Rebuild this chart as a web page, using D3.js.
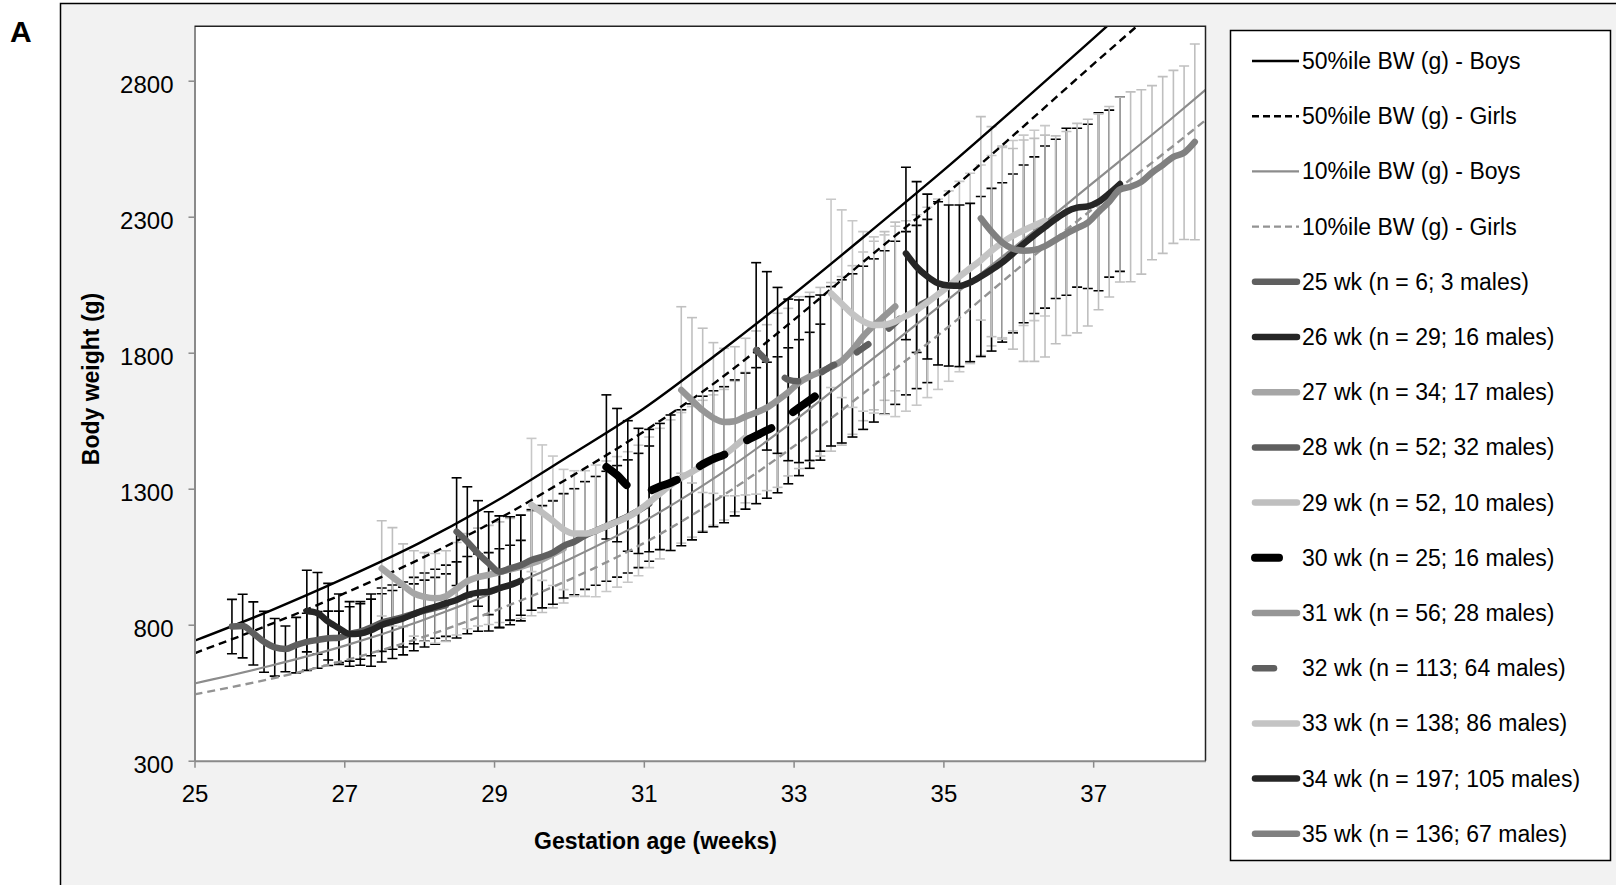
<!DOCTYPE html>
<html>
<head>
<meta charset="utf-8">
<script src="https://cdn.jsdelivr.net/npm/d3@7"></script>
<style>
body { margin: 0; background: #fff; }
text { font-family: "Liberation Sans", Arial, sans-serif; fill: #000; }
</style>
</head>
<body>
<script>
// reference percentile curves (g) by gestation week
var refWeeks = [25, 26, 27, 28, 29, 30, 31, 32, 33, 34, 35, 36, 37, 38, 38.5];
var boys50  = [741, 850, 970, 1100, 1250, 1420, 1595, 1800, 2015, 2240, 2470, 2710, 2955, 3200, 3320];
var girls50 = [695, 800, 915, 1040, 1180, 1340, 1510, 1700, 1920, 2150, 2375, 2615, 2860, 3100, 3220];
var boys10  = [584, 648, 722, 812, 918, 1040, 1180, 1350, 1548, 1765, 1982, 2200, 2425, 2650, 2766];
var girls10 = [544, 600, 668, 750, 850, 965, 1100, 1265, 1455, 1665, 1880, 2110, 2330, 2545, 2655];

// cohorts: first day (weeks), then daily mean and SD (g)
var cohortLabels = ["25 wk (n = 6; 3 males)", "26 wk (n = 29; 16 males)", "27 wk (n = 34; 17 males)",
  "28 wk (n = 52; 32 males)", "29 wk (n = 52, 10 males)", "30 wk (n = 25; 16 males)",
  "31 wk (n = 56; 28 males)", "32 wk (n = 113; 64 males)", "33 wk (n = 138; 86 males)",
  "34 wk (n = 197; 105 males)", "35 wk (n = 136; 67 males)"];
var cohortStart = [25.5, 26.5, 27.5, 28.5, 29.5, 30.5, 31.5, 32.5, 33.5, 34.5, 35.5];

var wk25Mean = [793, 795, 768, 737, 717, 711, 725, 737, 744, 750, 752, 766, 775, 790, 808, 818, 828, 840, 852, 862, 872];
var wk25Sd   = [100, 117, 116, 112, 106, 84, 102, 105, 104, 100, 98, 100, 102, 104, 106, 108, 110, 110, 112, 112, 115];
var wk26Mean = [850, 842, 811, 787, 766, 768, 780, 799, 811, 823, 839, 854, 866, 879, 891, 909, 918, 921, 934, 946, 962];
var wk26Sd   = [150, 150, 141, 126, 119, 117, 133, 136, 135, 134, 135, 136, 138, 140, 140, 142, 142, 144, 145, 146, 148];
var wk27Mean = [1007, 976, 945, 915, 902, 897, 905, 932, 960, 975, 983, 993, 1003, 1013, 1025, 1040, 1060, 1080];
var wk27Sd   = [175, 181, 152, 157, 163, 165, 167, 170, 175, 180, 182, 185, 188, 190, 192, 195, 198, 200];
var wk28Mean = [1142, 1105, 1062, 1026, 995, 1007, 1019, 1038, 1050, 1065, 1090, 1105, 1128, 1145, 1162, 1180, 1198, 1220, 1245];
var wk28Sd   = [198, 202, 194, 189, 205, 190, 184, 185, 188, 190, 192, 195, 198, 200, 202, 205, 208, 210, 212];
var wk29Mean = [1240, 1212, 1182, 1150, 1135, 1135, 1145, 1162, 1178, 1196, 1220, 1250, 1282, 1313, 1340, 1362, 1385, 1405, 1425, 1455, 1488];
var wk29Sd   = [245, 249, 238, 221, 231, 231, 242, 240, 240, 240, 240, 240, 240, 240, 240, 240, 240, 240, 240, 240, 240];
var wk30Mean = [1380, 1350, 1310, 1292, 1293, 1308, 1322, 1340, 1362, 1390, 1410, 1425, 1450, 1475, 1495, 1515, 1535, 1568, 1598, 1625, 1655];
var wk30Sd   = [265, 245, 240, 230, 225, 232, 249, 250, 250, 250, 250, 250, 250, 250, 250, 250, 250, 250, 250, 250, 250];
var wk31Mean = [1663, 1625, 1588, 1560, 1545, 1548, 1565, 1580, 1598, 1625, 1655, 1690, 1712, 1730, 1748, 1770, 1810, 1860, 1900, 1935, 1970];
var wk31Sd   = [306, 304, 302, 277, 271, 274, 288, 300, 305, 320, 308, 316, 310, 310, 310, 310, 310, 310, 310, 310, 310];
var wk32Mean = [1810, 1770, 1735, 1700, 1695, 1705, 1725, 1750, 1768, 1790, 1818, 1845, 1875, 1910, 1945, 1968, 1990];
var wk32Sd   = [321, 328, 305, 297, 299, 301, 287, 293, 300, 300, 300, 300, 300, 300, 300, 300, 300];
var wk33Mean = [2018, 1980, 1942, 1915, 1902, 1903, 1915, 1935, 1957, 1985, 2015, 2045, 2080, 2110, 2140, 2175, 2205, 2230, 2250, 2268, 2285];
var wk33Sd   = [346, 345, 343, 330, 324, 330, 350, 350, 350, 350, 350, 350, 350, 350, 350, 350, 350, 350, 350, 350, 350];
var wk34Mean = [2165, 2115, 2080, 2055, 2047, 2046, 2058, 2080, 2105, 2132, 2165, 2200, 2232, 2262, 2292, 2318, 2333, 2338, 2355, 2385, 2420];
var wk34Sd   = [317, 314, 303, 300, 296, 297, 291, 294, 299, 293, 292, 290, 288, 298, 293, 307, 292, 302, 327, 307, 321];
var wk35Mean = [2294, 2245, 2205, 2182, 2175, 2178, 2192, 2215, 2238, 2258, 2278, 2318, 2355, 2400, 2410, 2428, 2462, 2490, 2520, 2535, 2575];
var wk35Sd   = [374, 386, 355, 369, 407, 410, 408, 382, 375, 385, 380, 360, 350, 340, 349, 339, 320, 325, 318, 319, 360];

var yTicks = [300, 800, 1300, 1800, 2300, 2800];
var xTicks = [25, 27, 29, 31, 33, 35, 37];

// styles
var lineColors = ["#5f5f5f", "#262626", "#a6a6a6", "#5f5f5f", "#bfbfbf", "#000000", "#969696", "#5f5f5f", "#c4c4c4", "#262626", "#808080"];
var barColors  = ["#000", "#000", "#bfbfbf", "#000", "#c8c8c8", "#000", "#c0c0c0", "#000", "#c8c8c8", "#000", "#bfbfbf"];
var lineDash   = [null, null, null, null, null, "27,27", null, "14,26", null, null, null];
var lineWidth  = [6.5, 6.5, 6.5, 6.5, 6.5, 8, 6.5, 6.5, 6.5, 6.5, 6.5];

var means = [wk25Mean, wk26Mean, wk27Mean, wk28Mean, wk29Mean, wk30Mean, wk31Mean, wk32Mean, wk33Mean, wk34Mean, wk35Mean];
var sds   = [wk25Sd, wk26Sd, wk27Sd, wk28Sd, wk29Sd, wk30Sd, wk31Sd, wk32Sd, wk33Sd, wk34Sd, wk35Sd];

var cohorts = cohortLabels.map(function(label, i) {
  return {
    label: label,
    points: means[i].map(function(m, d) {
      return { w: cohortStart[i] + d / 7, m: m, sd: sds[i][d] };
    })
  };
});

var svg = d3.select('body').append('svg')
  .attr('width', 1616)
  .attr('height', 885);

// grey frame
svg.append('rect')
  .attr('x', 60.5).attr('y', 3.5)
  .attr('width', 1600).attr('height', 900)
  .attr('fill', '#f2f2f2')
  .attr('stroke', '#000')
  .attr('stroke-width', 1.5);

svg.append('text')
  .attr('x', 10).attr('y', 42)
  .attr('font-size', 30).attr('font-weight', 'bold')
  .text('A');

var x = d3.scaleLinear().domain([25, 38.5]).range([194.5, 1205.5]);
var y = d3.scaleLinear().domain([300, 3000]).range([760.7, 26.3]);

svg.append('rect')
  .attr('x', x(25)).attr('y', y(3000))
  .attr('width', x(38.5) - x(25)).attr('height', y(300) - y(3000))
  .attr('fill', '#fff');

svg.append('clipPath').attr('id', 'plotclip')
  .append('rect')
  .attr('x', x(25)).attr('y', y(3000))
  .attr('width', x(38.5) - x(25)).attr('height', y(300) - y(3000));

var plot = svg.append('g').attr('clip-path', 'url(#plotclip)');

// error bars
cohorts.forEach(function(c, i) {
  var g = plot.append('g')
    .attr('stroke', barColors[i])
    .attr('stroke-width', 1.6);
  c.points.forEach(function(p) {
    var px = x(p.w), top = y(p.m + p.sd), bot = y(p.m - p.sd);
    g.append('line').attr('x1', px).attr('x2', px).attr('y1', top).attr('y2', bot);
    g.append('line').attr('x1', px - 5).attr('x2', px + 5).attr('y1', top).attr('y2', top);
    g.append('line').attr('x1', px - 5).attr('x2', px + 5).attr('y1', bot).attr('y2', bot);
  });
});

// reference curves
var refLine = d3.line()
  .x(function(d) { return x(d[0]); })
  .y(function(d) { return y(d[1]); })
  .curve(d3.curveMonotoneX);

var refs = [
  { vals: boys50, color: '#000', dash: null, width: 2.4, label: '50%ile BW (g) - Boys' },
  { vals: girls50, color: '#000', dash: '8,5', width: 2.4, label: '50%ile BW (g) - Girls' },
  { vals: boys10, color: '#8c8c8c', dash: null, width: 2.2, label: '10%ile BW (g) - Boys' },
  { vals: girls10, color: '#939393', dash: '8,5', width: 2.4, label: '10%ile BW (g) - Girls' }
];

refs.forEach(function(r) {
  plot.append('path')
    .attr('d', refLine(refWeeks.map(function(w, i) { return [w, r.vals[i]]; })))
    .attr('fill', 'none')
    .attr('stroke', r.color)
    .attr('stroke-width', r.width)
    .attr('stroke-dasharray', r.dash);
});

// cohort mean lines
var meanLine = d3.line()
  .x(function(d) { return x(d.w); })
  .y(function(d) { return y(d.m); })
  .curve(d3.curveMonotoneX);

cohorts.forEach(function(c, i) {
  plot.append('path')
    .attr('d', meanLine(c.points))
    .attr('fill', 'none')
    .attr('stroke', lineColors[i])
    .attr('stroke-width', lineWidth[i])
    .attr('stroke-linecap', 'round')
    .attr('stroke-linejoin', 'round')
    .attr('stroke-dasharray', lineDash[i]);
});

// axes
var yAxis = svg.append('g')
  .attr('transform', 'translate(' + x(25) + ',0)')
  .call(d3.axisLeft(y).tickValues(yTicks).tickFormat(d3.format('d'))
    .tickSize(6).tickSizeOuter(0).tickPadding(15));
var xAxis = svg.append('g')
  .attr('transform', 'translate(0,' + y(300) + ')')
  .call(d3.axisBottom(x).tickValues(xTicks).tickFormat(d3.format('d'))
    .tickSize(7).tickSizeOuter(0).tickPadding(17));

[yAxis, xAxis].forEach(function(a) {
  a.select('.domain').attr('stroke', '#8a8a8a').attr('stroke-width', 2);
  a.selectAll('.tick line').attr('stroke', '#8a8a8a').attr('stroke-width', 1.5);
  a.selectAll('.tick text')
    .attr('font-size', 24)
    .attr('font-family', '"Liberation Sans", Arial, sans-serif')
    .attr('fill', '#000');
});
yAxis.selectAll('.tick text').attr('dy', '0.48em');

// top and right border of plot
svg.append('path')
  .attr('d', 'M' + x(25) + ',' + y(3000) + 'H' + x(38.5) + 'V' + y(300))
  .attr('fill', 'none')
  .attr('stroke', '#222')
  .attr('stroke-width', 1.5);

svg.append('text')
  .attr('transform', 'translate(99,379) rotate(-90)')
  .attr('text-anchor', 'middle')
  .attr('font-size', 23).attr('font-weight', 'bold')
  .text('Body weight (g)');

svg.append('text')
  .attr('x', 655.5).attr('y', 849)
  .attr('text-anchor', 'middle')
  .attr('font-size', 23).attr('font-weight', 'bold')
  .text('Gestation age (weeks)');

// legend
var legend = svg.append('g');
legend.append('rect')
  .attr('x', 1230.5).attr('y', 30.5)
  .attr('width', 380).attr('height', 830)
  .attr('fill', '#fff')
  .attr('stroke', '#000').attr('stroke-width', 1.5);

var rowY = function(i) { return 61 + i * 55.2; };

refs.forEach(function(r, i) {
  legend.append('line')
    .attr('x1', 1252).attr('x2', 1299)
    .attr('y1', rowY(i)).attr('y2', rowY(i))
    .attr('stroke', r.color)
    .attr('stroke-width', r.width)
    .attr('stroke-dasharray', r.dash ? '7,4' : null);
  legend.append('text')
    .attr('x', 1302).attr('y', rowY(i))
    .attr('dy', '0.35em')
    .attr('font-size', 23)
    .text(r.label);
});

cohorts.forEach(function(c, i) {
  var ly = rowY(i + 4);
  var x2 = i === 5 ? 1279 : (i === 7 ? 1274 : 1297);
  legend.append('line')
    .attr('x1', 1255).attr('x2', x2)
    .attr('y1', ly).attr('y2', ly)
    .attr('stroke', lineColors[i])
    .attr('stroke-width', i === 5 ? 8 : 6.5)
    .attr('stroke-linecap', 'round');
  legend.append('text')
    .attr('x', 1302).attr('y', ly)
    .attr('dy', '0.35em')
    .attr('font-size', 23)
    .text(c.label);
});
</script>
</body>
</html>
